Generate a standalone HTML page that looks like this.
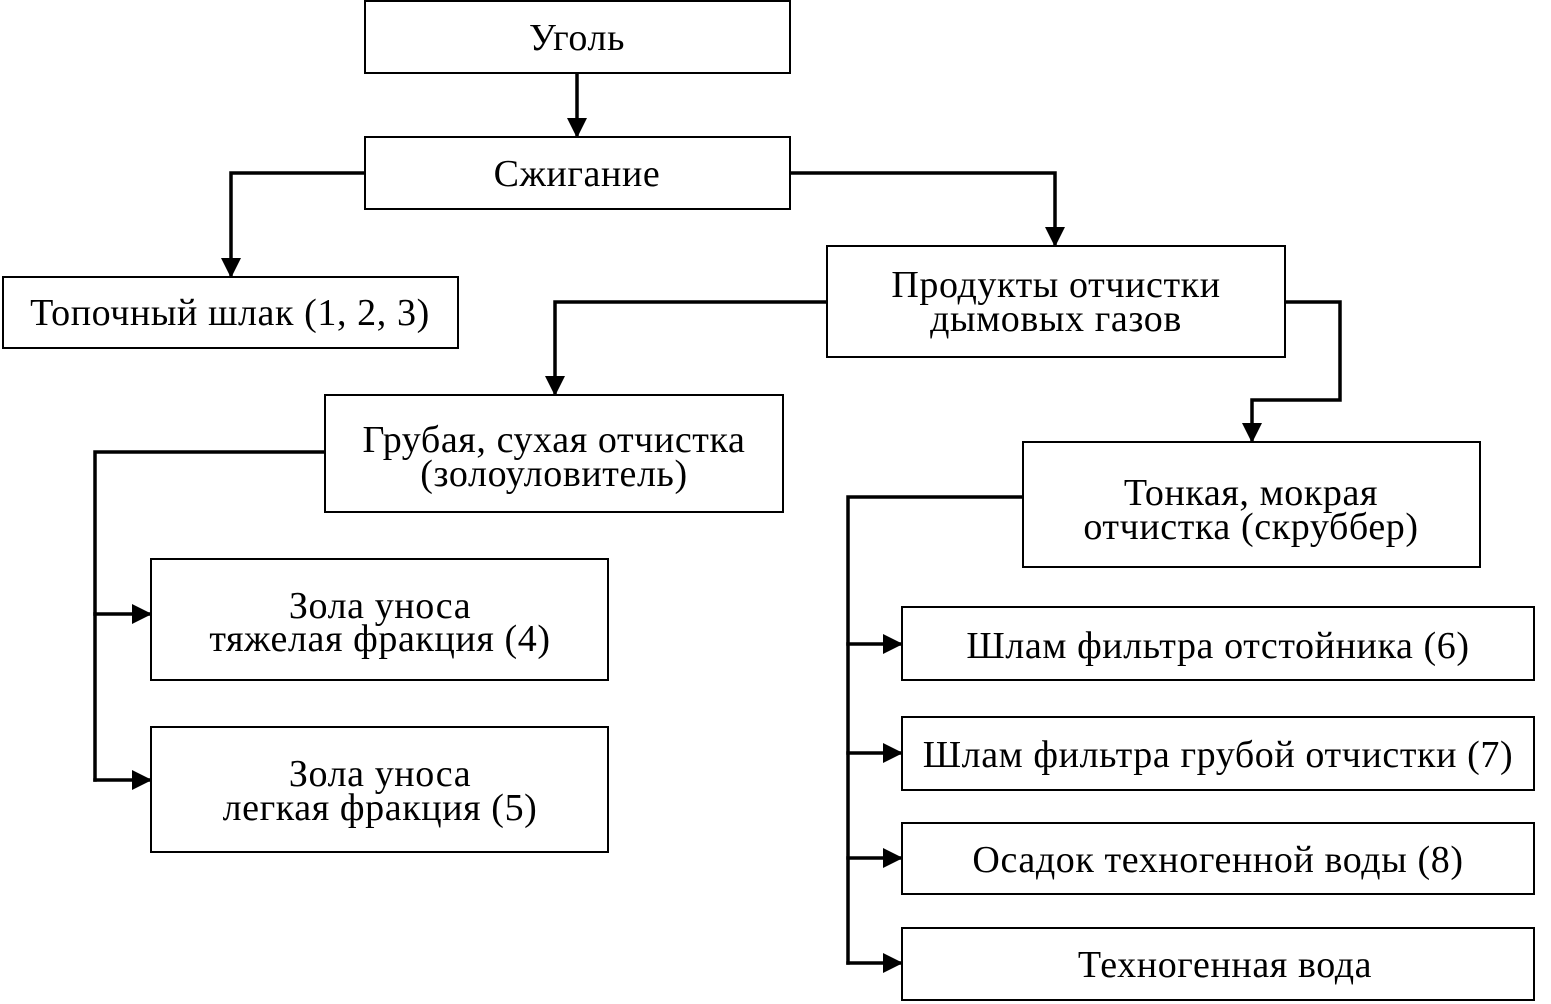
<!DOCTYPE html>
<html><head><meta charset="utf-8"><style>
html,body{margin:0;padding:0;background:#fff;}
svg{display:block;}
text{font-family:"Liberation Serif","DejaVu Serif",serif;font-size:38px;letter-spacing:0.6px;fill:#000;text-anchor:middle;}
</style></head><body>
<svg width="1551" height="1004" viewBox="0 0 1551 1004" xmlns="http://www.w3.org/2000/svg">
<defs>
<marker id="a" markerWidth="20" markerHeight="20" refX="19" refY="10" orient="auto" markerUnits="userSpaceOnUse">
<path d="M0,0 L20,10 L0,20 Z" fill="#000"/>
</marker>
</defs>
<g fill="#fff" stroke="#000" stroke-width="2">
<rect x="365" y="1" width="425" height="72"/>
<rect x="365" y="137" width="425" height="72"/>
<rect x="3" y="277" width="455" height="71"/>
<rect x="827" y="246" width="458" height="111"/>
<rect x="325" y="395" width="458" height="117"/>
<rect x="1023" y="442" width="457" height="125"/>
<rect x="151" y="559" width="457" height="121"/>
<rect x="151" y="727" width="457" height="125"/>
<rect x="902" y="607" width="632" height="73"/>
<rect x="902" y="717" width="632" height="73"/>
<rect x="902" y="823" width="632" height="71"/>
<rect x="902" y="928" width="632" height="72"/>
</g>
<g fill="none" stroke="#000" stroke-width="3.5" stroke-linejoin="miter">
<path d="M577,73 V137" marker-end="url(#a)"/>
<path d="M365,173 H231 V277" marker-end="url(#a)"/>
<path d="M790,173 H1055 V246" marker-end="url(#a)"/>
<path d="M827,302 H555 V395" marker-end="url(#a)"/>
<path d="M1285,302 H1340 V400 H1252 V442" marker-end="url(#a)"/>
<path d="M325,452 H95 V781.75"/>
<path d="M93.25,614 H151" marker-end="url(#a)"/>
<path d="M93.25,780 H151" marker-end="url(#a)"/>
<path d="M1023,497 H848 V964.75"/>
<path d="M846.25,644 H902" marker-end="url(#a)"/>
<path d="M846.25,753 H902" marker-end="url(#a)"/>
<path d="M846.25,858 H902" marker-end="url(#a)"/>
<path d="M846.25,963 H902" marker-end="url(#a)"/>
</g>
<text x="577" y="50">Уголь</text>
<text x="577" y="186">Сжигание</text>
<text x="230" y="325">Топочный шлак (1, 2, 3)</text>
<text x="1056" y="297">Продукты отчистки</text>
<text x="1056" y="331">дымовых газов</text>
<text x="554" y="452">Грубая, сухая отчистка</text>
<text x="554" y="486">(золоуловитель)</text>
<text x="1251" y="505">Тонкая, мокрая</text>
<text x="1251" y="539">отчистка (скруббер)</text>
<text x="380" y="618">Зола уноса</text>
<text x="380" y="651">тяжелая фракция (4)</text>
<text x="380" y="786">Зола уноса</text>
<text x="380" y="820">легкая фракция (5)</text>
<text x="1218" y="658">Шлам фильтра отстойника (6)</text>
<text x="1218" y="767">Шлам фильтра грубой отчистки (7)</text>
<text x="1218" y="872">Осадок техногенной воды (8)</text>
<text x="1225" y="977">Техногенная вода</text>
</svg>
</body></html>
